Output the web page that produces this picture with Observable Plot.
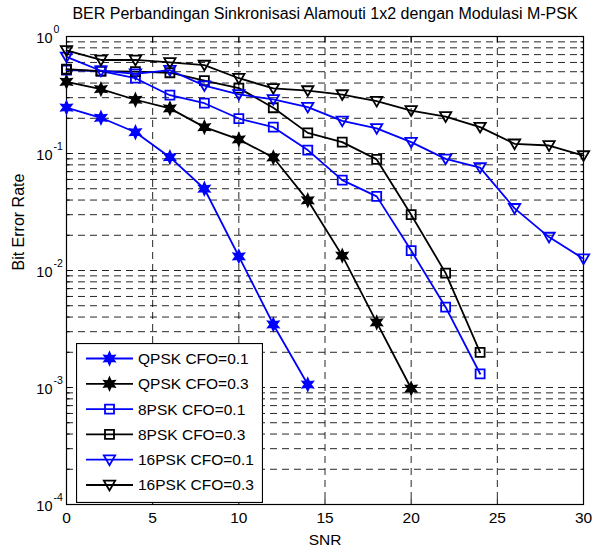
<!DOCTYPE html>
<html><head><meta charset="utf-8">
<script src="https://cdn.jsdelivr.net/npm/d3@7"></script>
<script src="https://cdn.jsdelivr.net/npm/@observablehq/plot@0.6"></script>
<style>
body{margin:0;background:#fff;font-family:"Liberation Sans",Arial,sans-serif}
#wrap{position:relative;width:602px;height:550px}
#legend{position:absolute;left:76px;top:343px}
</style></head><body><div id="wrap"></div>
<script>
// ---- data ----
const titleText = "BER Perbandingan Sinkronisasi Alamouti 1x2 dengan Modulasi M-PSK";
const xLabel = "SNR";
const yLabel = "Bit Error Rate";
const xTicks = [0, 5, 10, 15, 20, 25, 30];
const yMajor = [1e-4, 1e-3, 1e-2, 1e-1, 1];

const snrQPSK01 = [0, 2, 4, 6, 8, 10, 12, 14];
const berQPSK01 = [0.247, 0.202, 0.152, 0.093, 0.050, 0.0132, 0.00346, 0.00106];
const snrQPSK03 = [0, 2, 4, 6, 8, 10, 12, 14, 16, 18, 20];
const berQPSK03 = [0.41, 0.355, 0.288, 0.243, 0.168, 0.132, 0.0925, 0.0398, 0.0134, 0.0036, 0.00098];
const snr8PSK01 = [0, 2, 4, 6, 8, 10, 12, 14, 16, 18, 20, 22, 24];
const ber8PSK01 = [0.515, 0.505, 0.44, 0.315, 0.269, 0.199, 0.168, 0.107, 0.0592, 0.0430, 0.0148, 0.00486, 0.00131];
const snr8PSK03 = [0, 2, 4, 6, 8, 10, 12, 14, 16, 18, 20, 22, 24];
const ber8PSK03 = [0.525, 0.505, 0.50, 0.49, 0.42, 0.362, 0.246, 0.150, 0.125, 0.089, 0.030, 0.0095, 0.0020];
const snr16PSK01 = [0, 2, 4, 6, 8, 10, 12, 14, 16, 18, 20, 22, 24, 26, 28, 30];
const ber16PSK01 = [0.67, 0.51, 0.48, 0.515, 0.38, 0.32, 0.29, 0.249, 0.19, 0.164, 0.125, 0.090, 0.0758, 0.034, 0.0193, 0.0126];
const snr16PSK03 = [0, 2, 4, 6, 8, 10, 12, 14, 16, 18, 20, 22, 24, 26, 28, 30];
const ber16PSK03 = [0.76, 0.63, 0.63, 0.60, 0.57, 0.44, 0.36, 0.345, 0.319, 0.28, 0.233, 0.207, 0.168, 0.121, 0.117, 0.096];

const seriesNames = ["QPSK CFO=0.1", "QPSK CFO=0.3", "8PSK CFO=0.1", "8PSK CFO=0.3", "16PSK CFO=0.1", "16PSK CFO=0.3"];
const seriesX = [snrQPSK01, snrQPSK03, snr8PSK01, snr8PSK03, snr16PSK01, snr16PSK03];
const seriesY = [berQPSK01, berQPSK03, ber8PSK01, ber8PSK03, ber16PSK01, ber16PSK03];

// ---- styles ----
const BLUE = "#0000ff", BLACK = "#000000";
const seriesColor = [BLUE, BLACK, BLUE, BLACK, BLUE, BLACK];
const hexagram = {draw(ctx, size) {
  const R = Math.sqrt(size / Math.PI), r = R * 0.5;
  for (let i = 0; i < 12; i++) {
    const a = -Math.PI / 2 + i * Math.PI / 6, rr = i % 2 ? r : R;
    const px = rr * Math.cos(a), py = rr * Math.sin(a);
    i ? ctx.lineTo(px, py) : ctx.moveTo(px, py);
  }
  ctx.closePath();
}};
const squareSym = {draw(ctx, size) {
  const h = Math.sqrt(size / Math.PI) * 0.9;
  ctx.moveTo(-h, -h); ctx.lineTo(h, -h); ctx.lineTo(h, h); ctx.lineTo(-h, h); ctx.closePath();
}};
const triDown = {draw(ctx, size) {
  const r = Math.sqrt(size / Math.PI);
  ctx.moveTo(-1.05 * r, -0.8 * r); ctx.lineTo(1.05 * r, -0.8 * r); ctx.lineTo(0, 1.0 * r); ctx.closePath();
}};
const seriesSymbol = [hexagram, hexagram, squareSym, squareSym, triDown, triDown];
const seriesFill = [BLUE, BLACK, "none", "none", "none", "none"];
const seriesR = [6, 6, 5, 5, 5.4, 5.4];

const rows = [];
seriesNames.forEach((name, i) => seriesX[i].forEach((x, j) => rows.push({name, i, x, y: seriesY[i][j]})));

// grid values
const yMinor = [];
for (let k = -4; k <= -1; k++) for (let m = 1; m <= 9; m++) yMinor.push(m * Math.pow(10, k));
const yGrid = yMinor.filter(v => v > 1e-4);
const xGrid = xTicks.filter(v => v > 0 && v < 30);

const font = "Liberation Sans, Arial, Helvetica, sans-serif";
const marks = [
  Plot.ruleY(yGrid, {y: d => d, stroke: "#000", strokeOpacity: 0.85, strokeDasharray: "7,5"}),
  Plot.ruleX(xGrid, {x: d => d, stroke: "#000", strokeOpacity: 0.85, strokeDasharray: "7,5"}),
  // inward ticks
  Plot.axisY(yMinor.filter(v => !yMajor.includes(v)), {anchor: "left", tickSize: 3.5, dx: 3.5, tickFormat: () => "", label: null}),
  Plot.axisY(yMinor.filter(v => !yMajor.includes(v)), {anchor: "right", tickSize: 3.5, dx: -3.5, tickFormat: () => "", label: null}),
  Plot.axisY(yMajor, {anchor: "left", tickSize: 5, dx: 5, tickFormat: () => "", label: null}),
  Plot.axisY(yMajor, {anchor: "right", tickSize: 5, dx: -5, tickFormat: () => "", label: null}),
  Plot.axisX(xTicks, {anchor: "bottom", tickSize: 5, dy: -5, tickFormat: () => "", label: null}),
  Plot.axisX(xTicks, {anchor: "top", tickSize: 5, dy: 5, tickFormat: () => "", label: null}),
  Plot.frame({stroke: "#000", strokeWidth: 1.2}),
];
seriesNames.forEach((name, i) => {
  const d = rows.filter(r => r.i === i);
  marks.push(Plot.line(d, {x: "x", y: "y", stroke: seriesColor[i], strokeWidth: 1.8}));
  marks.push(Plot.dot(d, {x: "x", y: "y", symbol: seriesSymbol[i], r: seriesR[i], stroke: seriesColor[i], fill: seriesFill[i], strokeWidth: 1.8}));
});
marks.push(
  Plot.text(xTicks, {x: d => d, frameAnchor: "bottom", dy: 14, text: d => String(d), fontSize: 15.5, lineAnchor: "middle"}),
  Plot.text(yMajor, {y: d => d, frameAnchor: "left", dx: -14, dy: 2, textAnchor: "end", text: () => "10", fontSize: 14.5, lineAnchor: "middle"}),
  Plot.text(yMajor, {y: d => d, frameAnchor: "left", dx: -13, dy: -7, textAnchor: "start", text: d => String(Math.round(Math.log10(d))), fontSize: 10.5, lineAnchor: "middle"}),
  Plot.text([titleText], {frameAnchor: "top", dy: -23, text: d => d, fontSize: 16, lineAnchor: "middle"}),
  Plot.text([xLabel], {frameAnchor: "bottom", dy: 36, text: d => d, fontSize: 15.5, lineAnchor: "middle"}),
  Plot.text([yLabel], {frameAnchor: "left", dx: -48, rotate: -90, text: d => d, fontSize: 16, lineAnchor: "middle"})
);

const chart = Plot.plot({
  width: 602, height: 550,
  marginLeft: 66, marginRight: 19, marginTop: 36, marginBottom: 46,
  style: {fontFamily: font, background: "white", color: "black", overflow: "visible"},
  x: {domain: [0, 30], axis: null},
  y: {type: "log", domain: [1e-4, 1], axis: null},
  marks
});
const wrap = document.getElementById("wrap");
wrap.appendChild(chart);

// ---- legend (HTML overlay, drawn from series definitions) ----
const lw = 187, lh = 160, rowH = 25.3;
const leg = d3.select(wrap).append("svg").attr("id", "legend").attr("width", lw).attr("height", lh)
  .style("font-family", font);
leg.append("rect").attr("x", 0.5).attr("y", 0.5).attr("width", lw - 1).attr("height", lh - 1)
  .attr("fill", "white").attr("stroke", "black").attr("stroke-width", 1.2);
seriesNames.forEach((name, i) => {
  const g = leg.append("g").attr("transform", `translate(0,${15.5 + i * rowH})`);
  g.append("line").attr("x1", 10).attr("x2", 57).attr("stroke", seriesColor[i]).attr("stroke-width", 1.8);
  g.append("path").attr("transform", "translate(33.5,0)")
    .attr("d", d3.symbol(seriesSymbol[i], seriesR[i] * seriesR[i] * Math.PI)())
    .attr("fill", seriesFill[i] === "none" ? "none" : seriesFill[i]).attr("stroke", seriesColor[i]).attr("stroke-width", 1.8);
  g.append("text").attr("x", 62).attr("dy", "0.35em").attr("font-size", 15.5).text(name);
});
</script></body></html>
